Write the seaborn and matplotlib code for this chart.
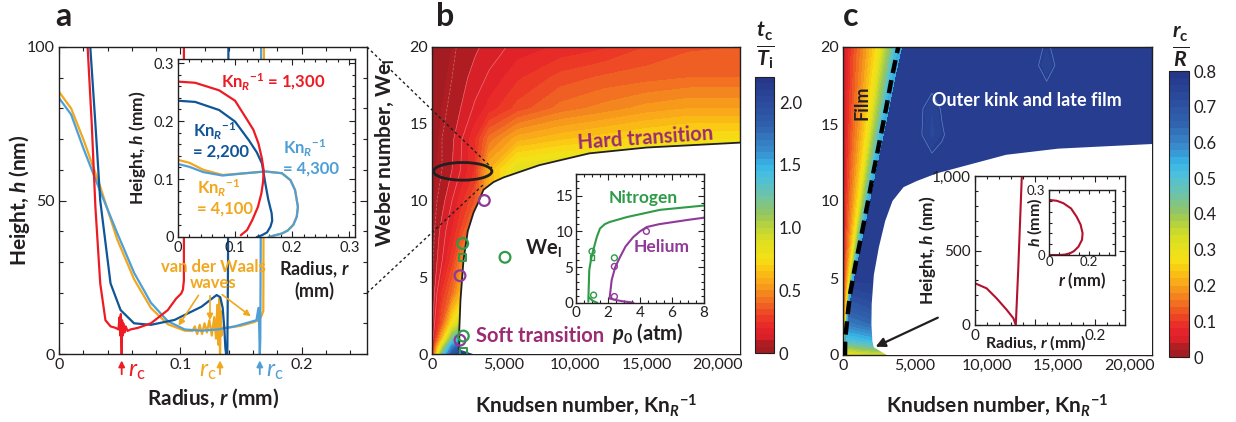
import numpy as np
import matplotlib
matplotlib.use("Agg")
import matplotlib.pyplot as plt
import seaborn as sns
from matplotlib.colors import LinearSegmentedColormap
from matplotlib.patches import Ellipse, FancyArrowPatch
from matplotlib.lines import Line2D
from matplotlib.ticker import MultipleLocator, FuncFormatter, FixedLocator

# ---------------- DATA ----------------
# Panel a: main plot, radius r (mm) vs height h (nm)
red_r = [0.0236, 0.027, 0.030, 0.034, 0.0383, 0.0425, 0.0467, 0.049, 0.0500, 0.0505, 0.0510, 0.0514, 0.0517,
         0.0520, 0.0525, 0.053, 0.054, 0.055, 0.0565, 0.059, 0.065, 0.0758, 0.0897, 0.0965, 0.1008, 0.1022, 0.1030, 0.1030]
red_h = [100, 75, 48, 23, 11, 9, 8.5, 8, 12, 6, 13, 5, 0,
         11, 6, 10, 7, 9, 7.5, 8, 8.5, 10, 14.3, 18, 19.7, 21, 24, 100]
dblue_r = [0.0258, 0.030, 0.034, 0.0425, 0.0508, 0.0619, 0.0758, 0.0953, 0.1175, 0.126, 0.130, 0.1330, 0.1350,
           0.1364, 0.1372, 0.1378, 0.1388, 0.1394, 0.1397]
dblue_h = [100, 75, 50, 23, 14.3, 10, 9.5, 11.1, 15.4, 18, 19.2, 18.5, 15, 8, 2, 0, 0, 30, 100]
yel_r = [0.0, 0.010, 0.0203, 0.034, 0.048, 0.062, 0.0758, 0.0897, 0.1036, 0.110, 0.112, 0.114, 0.116, 0.118,
         0.120, 0.122, 0.124, 0.126, 0.128, 0.1295, 0.1305, 0.1315, 0.1322, 0.1328, 0.1334, 0.134, 0.1346,
         0.140, 0.150, 0.160, 0.1647, 0.1665, 0.1685, 0.169]
yel_h = [85.4, 80, 69.7, 54.5, 37.3, 24.3, 15, 9.7, 7.6, 7.5, 9, 6.5, 9.5, 6.5,
         10, 7, 11, 6, 12, 5, 16, 3, 18, 0, 14, 6, 8.5,
         8.6, 9.2, 10.3, 11, 12, 14, 100]
lblue_r = [0.0, 0.010, 0.0203, 0.034, 0.048, 0.062, 0.0758, 0.0897, 0.1036, 0.1175, 0.131, 0.145, 0.1628,
           0.1645, 0.1650, 0.1656, 0.1660, 0.1664, 0.1667]
lblue_h = [83.4, 78, 66.8, 53, 39.4, 26.4, 16.7, 10.7, 8, 7.6, 8, 9, 11, 15, 10, 0, 5, 40, 100]

# Panel a inset: r (mm) vs h (mm)
in_red_r = [0, 0.03, 0.072, 0.10, 0.118, 0.132, 0.141, 0.147, 0.150, 0.149, 0.146, 0.140, 0.130, 0.121, 0.110]
in_red_h = [0.268, 0.266, 0.253, 0.235, 0.207, 0.185, 0.161, 0.135, 0.115, 0.095, 0.075, 0.052, 0.029, 0.012, 0.003]
in_dblue_r = [0, 0.03, 0.072, 0.10, 0.124, 0.138, 0.147, 0.150, 0.153, 0.158, 0.164, 0.165, 0.162, 0.156, 0.147, 0.138]
in_dblue_h = [0.235, 0.233, 0.219, 0.199, 0.167, 0.146, 0.127, 0.11, 0.092, 0.065, 0.041, 0.028, 0.018, 0.008, 0.003, 0.0]
in_yel_r = [0, 0.02, 0.044, 0.078, 0.118, 0.153, 0.182, 0.197, 0.205, 0.21, 0.208, 0.202, 0.192, 0.182, 0.170, 0.159]
in_yel_h = [0.133, 0.128, 0.116, 0.107, 0.11, 0.113, 0.11, 0.098, 0.081, 0.052, 0.035, 0.021, 0.011, 0.006, 0.003, 0.0]
in_lblue_r = [0, 0.02, 0.044, 0.078, 0.118, 0.153, 0.182, 0.197, 0.205, 0.21, 0.208, 0.202, 0.192, 0.182, 0.170, 0.159]
in_lblue_h = [0.126, 0.121, 0.112, 0.106, 0.11, 0.113, 0.11, 0.098, 0.081, 0.052, 0.035, 0.021, 0.011, 0.006, 0.003, 0.0]

# Panel b: t_c/T_i on a (We, Kn) grid
kn_b = [0, 700, 1400, 2000, 3000, 4000, 6000, 9000, 12000, 15000, 18000, 21540]
we_b = [0, 0.5, 1, 2, 4, 6, 8, 10, 12, 14, 16, 18, 20]
tc_b = [
    [0.20, 1.20, 1.90, 2.10, 2.15, 2.15, 2.15, 2.15, 2.15, 2.15, 2.15, 2.15],
    [0.15, 0.90, 1.60, 1.90, 2.10, 2.10, 2.10, 2.10, 2.10, 2.10, 2.10, 2.10],
    [0.10, 0.60, 1.20, 1.50, 1.80, 1.90, 1.90, 1.90, 1.90, 1.90, 1.90, 1.90],
    [0.08, 0.35, 0.75, 0.95, 1.20, 1.30, 1.30, 1.30, 1.30, 1.30, 1.30, 1.30],
    [0.05, 0.25, 0.40, 0.60, 0.85, 1.00, 1.00, 1.00, 1.00, 1.00, 1.00, 1.00],
    [0.05, 0.15, 0.28, 0.45, 0.70, 0.90, 0.95, 0.95, 0.95, 0.95, 0.95, 0.95],
    [0.04, 0.12, 0.20, 0.30, 0.50, 0.80, 0.95, 0.95, 0.95, 0.95, 0.95, 0.95],
    [0.04, 0.08, 0.15, 0.22, 0.35, 0.60, 0.90, 0.95, 0.95, 0.95, 0.95, 0.95],
    [0.04, 0.06, 0.10, 0.15, 0.25, 0.60, 0.85, 0.90, 0.90, 0.90, 0.90, 0.90],
    [0.03, 0.06, 0.09, 0.14, 0.24, 0.42, 0.58, 0.64, 0.68, 0.72, 0.75, 0.75],
    [0.03, 0.05, 0.07, 0.10, 0.16, 0.22, 0.32, 0.42, 0.47, 0.52, 0.55, 0.55],
    [0.03, 0.04, 0.06, 0.08, 0.12, 0.16, 0.24, 0.32, 0.36, 0.38, 0.40, 0.40],
    [0.03, 0.04, 0.05, 0.07, 0.09, 0.12, 0.17, 0.21, 0.24, 0.30, 0.34, 0.35],
]
# hard/soft transition boundary (panel b)
bnd_kn_b = [2870, 1910, 1910, 1990, 2200, 2500, 2900, 3250, 3600, 4300, 5000, 7500, 11000, 15000, 21540]
bnd_we_b = [0, 0.3, 1.6, 3.5, 6.1, 8.0, 9.2, 9.9, 10.7, 11.2, 11.5, 12.3, 13.07, 13.45, 13.77]
# experimental points (panel b)
he_kn = [3660, 1958, 1958]
he_we = [10.0, 5.1, 0.9]
n2_kn = [2147, 5105, 2190]
n2_we = [7.2, 6.3, 1.17]
n2sq_kn = [2147, 2190]
n2sq_we = [6.3, 0.15]
# panel b inset: We_l vs p0 (atm)
n2_p = [0.77, 0.80, 0.83, 0.95, 1.08, 1.3, 1.5, 1.8, 2.1, 3.2, 5.25, 8.0]
n2_wel = [0.18, 2.5, 4.6, 6.2, 7.4, 9.2, 10.4, 11.0, 11.3, 12.0, 13.0, 13.6]
n2_low_p = [0.8, 1.05, 1.35]
n2_low_wel = [0.8, 0.3, 0.0]
he_p = [2.1, 2.23, 2.45, 2.75, 3.1, 3.58, 4.0, 4.42, 5.2, 6.1, 7.0, 8.0]
he_wel = [0.65, 3.2, 5.0, 6.4, 7.9, 9.2, 10.0, 10.6, 11.0, 11.3, 11.6, 11.9]
he_low_p = [2.1, 2.4, 2.9, 3.58]
he_low_wel = [0.65, 0.45, 0.25, 0.05]
in_n2_p = [1.0, 1.1, 2.4]
in_n2_wel = [7.2, 1.1, 6.3]
in_he_p = [2.4, 4.4, 2.4]
in_he_wel = [5.1, 10.0, 0.9]

# Panel c: r_c/R
kn_c = [0, 1000, 2000, 3000, 21540]
we_c = [0, 0.5, 1, 2, 3, 4, 5, 20]
rc_c = [
    [0.28, 0.30, 0.32, 0.32, 0.32],
    [0.38, 0.42, 0.44, 0.46, 0.46],
    [0.50, 0.52, 0.54, 0.58, 0.58],
    [0.60, 0.62, 0.64, 0.70, 0.70],
    [0.66, 0.68, 0.70, 0.76, 0.76],
    [0.72, 0.73, 0.74, 0.78, 0.78],
    [0.77, 0.77, 0.77, 0.78, 0.78],
    [0.78, 0.78, 0.78, 0.78, 0.78],
]
# lighter blobs inside the dark-blue region of panel c
blob1_kn = [5200, 6200, 6900, 7600]
blob1_we = [12.6, 14.3, 16.0, 17.6]
blob1_rc = [[0.78, 0.78, 0.78, 0.78],
            [0.78, 0.73, 0.76, 0.78],
            [0.78, 0.74, 0.77, 0.78],
            [0.78, 0.78, 0.78, 0.78]]
blob2_kn = [13200, 14200, 15200]
blob2_we = [17.0, 18.8, 20.0]
blob2_rc = [[0.78, 0.78, 0.78],
            [0.78, 0.745, 0.78],
            [0.78, 0.76, 0.78]]
film_we = [0, 1, 2, 3, 4, 6, 8, 10, 12, 14, 16, 18, 20]
film_kn = [140, 150, 260, 370, 500, 900, 1330, 1750, 2150, 2580, 3000, 3400, 3850]
strip_frac = [0, 0.15, 0.26, 0.41, 0.56, 0.68, 0.76, 0.88, 0.97, 1.06]
strip_rc = [0.03, 0.10, 0.14, 0.19, 0.245, 0.30, 0.36, 0.43, 0.52, 0.56]
bnd_kn_c = [3050, 2150, 2050, 1980, 2000, 2150, 2500, 2940, 3450, 4220, 5150, 6550, 11370, 15000, 21540]
bnd_we_c = [0, 0.5, 0.9, 2.0, 3.3, 5.2, 7.0, 8.7, 10.0, 10.9, 11.3, 11.8, 13.0, 13.4, 13.7]
# panel c inset
ci_r = [0, 0.0194, 0.036, 0.053, 0.064, 0.068, 0.072, 0.0785]
ci_h = [280, 246, 179, 101, 45, 0, 369, 1050]
cii_r = [0, 0.005, 0.04, 0.072, 0.11, 0.138, 0.158, 0.168, 0.165, 0.147, 0.125, 0.105, 0.08, 0.055, 0.0]
cii_h = [0.254, 0.254, 0.25, 0.239, 0.215, 0.177, 0.14, 0.1, 0.07, 0.038, 0.018, 0.008, 0.002, 0.0, 0.0]

# colormap anchors (t_c/T_i scale, 0-2.2)
cmap_pos = [0.0, 0.085, 0.11, 0.20, 0.28, 0.36, 0.45, 0.55, 0.65, 0.75, 0.90, 1.00, 1.10, 1.25, 1.40,
            1.50, 1.60, 1.80, 2.00, 2.20]
cmap_cols = ["#9e1b20", "#b31e23", "#d52027", "#e6242a", "#ec3a26", "#ef5a23", "#f37d20", "#f8a31b",
             "#fbc313", "#f6e116", "#dbdf22", "#bdd437", "#97c75c", "#6fc3a6", "#4cc0dc", "#37b6e8",
             "#3a90cf", "#3063ad", "#2b4a9c", "#253586"]

# ---------------- STYLE ----------------
sns.set_theme(style="ticks")
FONT = "Lato"
plt.rcParams["font.family"] = [FONT, "DejaVu Sans"]
plt.rcParams["mathtext.fontset"] = "custom"
plt.rcParams["mathtext.rm"] = FONT
plt.rcParams["mathtext.it"] = FONT + ":italic"
plt.rcParams["mathtext.bf"] = FONT + ":bold"
plt.rcParams["mathtext.bfit"] = FONT + ":bold:italic"

INK = "#231f20"
C_RED, C_DBLUE, C_YEL, C_LBLUE = "#ed1c24", "#0f5597", "#f1a71e", "#4f9fd6"
C_GREEN, C_PURPLE, C_MAG = "#2e9b48", "#8f3a98", "#9b2b73"
C_CRIM = "#b3122e"
LAB = 15

cmap = LinearSegmentedColormap.from_list(
    "tc", [(p / 2.2, c) for p, c in zip(cmap_pos, cmap_cols)])

W, H = 1236, 422
fig = plt.figure(figsize=(W / 100, H / 100), dpi=100)


def add_ax(l, t, r, b):
    return fig.add_axes([l / W, 1 - b / H, (r - l) / W, (b - t) / H])


def style(ax, size=11, maj=5, mnr=2.5):
    ax.tick_params(which="both", direction="in", top=True, right=True, colors=INK,
                   width=0.8, labelsize=size, pad=3)
    ax.tick_params(which="major", length=maj)
    ax.tick_params(which="minor", length=mnr)
    for s in ax.spines.values():
        s.set_visible(True)
        s.set_linewidth(1.0)
        s.set_color(INK)
    ax.set_xlabel("")
    ax.set_ylabel("")


def ftext(x, y, s, **kw):
    kw.setdefault("ha", "center")
    kw.setdefault("va", "center")
    kw.setdefault("color", INK)
    return fig.text(x / W, 1 - y / H, s, **kw)


def fmt_num(v, pos=None):
    if abs(v) < 1e-12:
        return "0"
    return f"{v:g}"


def fmt_comma(v, pos=None):
    return f"{int(round(v)):,}"


KN = r"Kn$_{\mathbfit{R}}$$^{\mathbf{-1}}$"

# ---------------- PANEL A ----------------
axa = add_ax(59, 47, 367, 354)
for xs, ys, c in [(yel_r, yel_h, C_YEL), (lblue_r, lblue_h, C_LBLUE),
                  (dblue_r, dblue_h, C_DBLUE), (red_r, red_h, C_RED)]:
    sns.lineplot(x=xs, y=ys, sort=False, estimator=None, color=c, lw=1.6, ax=axa)
axa.set_xlim(0, 0.254)
axa.set_ylim(0, 100)
axa.xaxis.set_major_locator(MultipleLocator(0.1))
axa.xaxis.set_minor_locator(MultipleLocator(0.02))
axa.yaxis.set_major_locator(MultipleLocator(50))
axa.yaxis.set_minor_locator(MultipleLocator(10))
axa.xaxis.set_major_formatter(FuncFormatter(fmt_num))
style(axa, size=11.5, maj=5, mnr=3)
axa.set_ylabel(r"Height, $\mathbfit{h}$ (nm)", fontsize=LAB, fontweight="bold", color=INK, va="center")
axa.yaxis.set_label_coords((20 - 59) / 308, 0.5)
axa.set_xlabel(r"Radius, $\mathbfit{r}$ (mm)", fontsize=LAB, fontweight="bold", color=INK, va="center")
axa.xaxis.set_label_coords(0.5, (354 - 398) / 307)

# r_c markers
for rx, c, tx in [(0.0517, C_RED, 128), (0.1328, C_YEL, 199), (0.1656, C_LBLUE, 266)]:
    axa.annotate("", xy=(rx, -0.012), xytext=(rx, -0.075), xycoords=("data", "axes fraction"),
                 textcoords=("data", "axes fraction"), annotation_clip=False,
                 arrowprops=dict(arrowstyle="-|>", color=c, lw=1.3, mutation_scale=9))
    ftext(tx, 372, r"$\mathit{r}_\mathrm{c}$", fontsize=17, color=c, ha="left")

ftext(213, 275, "van der Waals\nwaves", fontsize=12, color=C_YEL, fontweight="bold", linespacing=1.0)
for (x0, y0), (x1, y1) in [((200, 293), (177, 328)), ((210, 293), (210, 323)), ((220, 293), (253, 318))]:
    fig.add_artist(FancyArrowPatch(
        (x0 / W, 1 - y0 / H), (x1 / W, 1 - y1 / H), transform=fig.transFigure,
        arrowstyle="-|>", mutation_scale=9, color=C_YEL, lw=1.2))

# inset a
axai = add_ax(178, 59, 355, 237)
axai.set_facecolor("white")
for xs, ys, c in [(in_yel_r, in_yel_h, C_YEL), (in_lblue_r, in_lblue_h, C_LBLUE),
                  (in_dblue_r, in_dblue_h, C_DBLUE), (in_red_r, in_red_h, C_RED)]:
    sns.lineplot(x=xs, y=ys, sort=False, estimator=None, color=c, lw=1.6, ax=axai)
axai.set_xlim(0, 0.31)
axai.set_ylim(0, 0.307)
axai.xaxis.set_major_locator(MultipleLocator(0.1))
axai.xaxis.set_minor_locator(MultipleLocator(0.02))
axai.yaxis.set_major_locator(MultipleLocator(0.1))
axai.yaxis.set_minor_locator(MultipleLocator(0.02))
axai.xaxis.set_major_formatter(FuncFormatter(fmt_num))
axai.yaxis.set_major_formatter(FuncFormatter(fmt_num))
style(axai, size=10.5, maj=4, mnr=2.5)
ftext(138, 148, r"Height, $\mathbfit{h}$ (mm)", rotation=90, fontsize=12.5, fontweight="bold")
ftext(314, 280, "Radius, $\\mathbfit{r}$\n(mm)", fontsize=13, fontweight="bold", linespacing=1.1)
ftext(273, 82, KN + " = 1,300", fontsize=12, fontweight="bold", color=C_RED)
ftext(193, 140, KN + "\n= 2,200", fontsize=12, fontweight="bold", color=C_DBLUE, ha="left", linespacing=1.05)
ftext(283, 157, KN + "\n= 4,300", fontsize=12, fontweight="bold", color=C_LBLUE, ha="left", linespacing=1.05)
ftext(197, 197, KN + "\n= 4,100", fontsize=12, fontweight="bold", color=C_YEL, ha="left", linespacing=1.05)

# ---------------- PANEL B ----------------
axb = add_ax(432, 47, 740, 354)
levels_b = np.arange(0, 2.2001, 0.05)
cf_b = axb.contourf(kn_b, we_b, tc_b, levels=levels_b, cmap=cmap, vmin=0, vmax=2.2)
axb.contour(kn_b, we_b, tc_b, levels=[0.06, 0.1, 0.15], colors="white",
            linewidths=0.5, alpha=0.35, linestyles=[(0, (4, 2)), "solid", "solid"])
poly_kn = list(bnd_kn_b) + [23000, 23000]
poly_we = list(bnd_we_b) + [13.77, -1]
axb.fill(poly_kn + [bnd_kn_b[0]], poly_we + [-1], color="white", zorder=3, lw=0)
sns.lineplot(x=bnd_kn_b[1:], y=bnd_we_b[1:], sort=False, estimator=None, color=INK, lw=1.3, ax=axb, zorder=4)
axb.add_patch(Ellipse((2147, 11.9), width=4080, height=1.15, fill=False, lw=2.0, ec=INK, zorder=5))
sns.scatterplot(x=he_kn, y=he_we, marker="o", s=60, facecolor="none", edgecolor=C_PURPLE, linewidth=1.6,
                ax=axb, zorder=6)
sns.scatterplot(x=n2_kn, y=n2_we, marker="o", s=60, facecolor="none", edgecolor=C_GREEN, linewidth=1.6,
                ax=axb, zorder=6)
sns.scatterplot(x=n2sq_kn, y=n2sq_we, marker="s", s=25, facecolor="none", edgecolor=C_GREEN, linewidth=1.4,
                ax=axb, zorder=6)
axb.set_xlim(0, 21540)
axb.set_ylim(0, 20)
axb.xaxis.set_major_locator(MultipleLocator(5000))
axb.xaxis.set_minor_locator(MultipleLocator(1000))
axb.yaxis.set_major_locator(MultipleLocator(5))
axb.yaxis.set_minor_locator(MultipleLocator(1))
axb.xaxis.set_major_formatter(FuncFormatter(fmt_comma))
style(axb, size=11.5, maj=5, mnr=3)
axb.set_ylabel(r"Weber number, We$_\mathbf{l}$", fontsize=LAB, fontweight="bold", color=INK, va="center")
axb.yaxis.set_label_coords((385 - 432) / 308, (354 - 153) / 307)
axb.set_xlabel("Knudsen number, " + KN, fontsize=LAB, fontweight="bold", color=INK, va="center")
axb.xaxis.set_label_coords(0.5, (354 - 405) / 307)
axb.text(14895, 14.05, "Hard transition", fontsize=14.5, fontweight="bold", color=C_MAG,
         ha="center", va="center", rotation=4, zorder=7)
axb.text(7552, 1.17, "Soft transition", fontsize=14.5, fontweight="bold", color=C_MAG,
         ha="center", va="center", zorder=7)

# colorbar b
cax_b = add_ax(755, 77, 774, 353)
cb_b = fig.colorbar(cf_b, cax=cax_b, ticks=[0, 0.5, 1.0, 1.5, 2.0])
cb_b.ax.set_yticklabels(["0", "0.5", "1.0", "1.5", "2.0"])
cb_b.ax.tick_params(direction="in", length=5, width=0.8, colors=INK, labelsize=12, right=True)
cb_b.outline.set_linewidth(0.8)
cb_b.outline.set_edgecolor(INK)
ftext(765, 46, r"$\frac{\mathbfit{t}_\mathbf{c}}{\mathbfit{T}_\mathbf{i}}$", fontsize=22)

# inset b
axbi = add_ax(576, 174, 704, 303)
axbi.set_facecolor("white")
axbi.set_zorder(10)
sns.lineplot(x=n2_p, y=n2_wel, sort=False, estimator=None, color=C_GREEN, lw=1.5, ax=axbi)
sns.lineplot(x=n2_low_p, y=n2_low_wel, sort=False, estimator=None, color=C_GREEN, lw=1.5, ax=axbi)
sns.lineplot(x=he_p, y=he_wel, sort=False, estimator=None, color=C_PURPLE, lw=1.5, ax=axbi)
sns.lineplot(x=he_low_p, y=he_low_wel, sort=False, estimator=None, color=C_PURPLE, lw=1.5, ax=axbi)
sns.scatterplot(x=in_n2_p, y=in_n2_wel, marker="o", s=18, facecolor="none", edgecolor=C_GREEN,
                linewidth=1.0, ax=axbi, zorder=5)
sns.scatterplot(x=[1.0], y=[6.3], marker="s", s=12, facecolor="none", edgecolor=C_GREEN,
                linewidth=1.0, ax=axbi, zorder=5)
sns.scatterplot(x=in_he_p, y=in_he_wel, marker="o", s=18, facecolor="none", edgecolor=C_PURPLE,
                linewidth=1.0, ax=axbi, zorder=5)
axbi.set_xlim(0, 8)
axbi.set_ylim(0, 18)
axbi.xaxis.set_major_locator(MultipleLocator(2))
axbi.xaxis.set_minor_locator(MultipleLocator(0.5))
axbi.yaxis.set_major_locator(MultipleLocator(5))
axbi.yaxis.set_minor_locator(MultipleLocator(1))
style(axbi, size=11, maj=4, mnr=2.5)
axbi.tick_params(pad=2)
ftext(543, 248, r"We$_\mathbf{l}$", fontsize=14.5, fontweight="bold")
ftext(648, 334, r"$\mathbfit{p}_\mathbf{0}$ (atm)", fontsize=14.5, fontweight="bold")
ftext(643, 198, "Nitrogen", fontsize=12.5, fontweight="bold", color=C_GREEN, zorder=20)
ftext(662, 247, "Helium", fontsize=12.5, fontweight="bold", color=C_PURPLE, zorder=20)

# dotted connector lines (figure pixels)
for (x0, y0), (x1, y1) in [((367, 47), (492, 168)), ((367, 293), (483, 185))]:
    fig.add_artist(Line2D([x0 / W, x1 / W], [1 - y0 / H, 1 - y1 / H], transform=fig.transFigure,
                          color=INK, lw=1.0, ls=(0, (2, 2)), zorder=8))

# ---------------- PANEL C ----------------
axc = add_ax(843, 47, 1152, 355)
levels_c = np.arange(0, 0.8001, 0.02)
cf_c = axc.contourf(kn_c, we_c, rc_c, levels=levels_c, cmap=cmap, vmin=0, vmax=0.8)
for bk, bw, bz in [(blob1_kn, blob1_we, blob1_rc), (blob2_kn, blob2_we, blob2_rc)]:
    axc.contourf(bk, bw, bz, levels=levels_c[levels_c < 0.7801], cmap=cmap, vmin=0, vmax=0.8)
    axc.contour(bk, bw, bz, levels=[0.765], colors="#5d86c4", linewidths=0.5)
strip_x = np.array(film_kn)[:, None] * np.array(strip_frac)[None, :]
strip_y = np.repeat(np.array(film_we)[:, None], len(strip_frac), axis=1)
strip_z = np.repeat(np.array(strip_rc)[None, :], len(film_we), axis=0)
axc.contourf(strip_x, strip_y, strip_z, levels=levels_c, cmap=cmap, vmin=0, vmax=0.8)
pc_kn = list(bnd_kn_c) + [23000, 23000, bnd_kn_c[0]]
pc_we = list(bnd_we_c) + [13.7, -1, -1]
axc.fill(pc_kn, pc_we, color="white", zorder=3, lw=0)
sns.lineplot(x=film_kn, y=film_we, sort=False, estimator=None, color="black", lw=3.2, ax=axc, zorder=5)
axc.lines[-1].set_dashes((3, 1.6))
axc.set_xlim(0, 21540)
axc.set_ylim(0, 20)
axc.xaxis.set_major_locator(MultipleLocator(5000))
axc.xaxis.set_minor_locator(MultipleLocator(1000))
axc.yaxis.set_major_locator(MultipleLocator(5))
axc.yaxis.set_minor_locator(MultipleLocator(1))
axc.xaxis.set_major_formatter(FuncFormatter(fmt_comma))
style(axc, size=11.5, maj=5, mnr=3)
axc.set_xlabel("Knudsen number, " + KN, fontsize=LAB, fontweight="bold", color=INK, va="center")
axc.xaxis.set_label_coords(0.5, (355 - 405) / 308)
axc.text(1308, 16.35, "Film", rotation=90, fontsize=13, fontweight="bold", color=INK,
         ha="center", va="center", zorder=6)
axc.text(12850, 16.5, "Outer kink and late film", fontsize=13, fontweight="bold", color="white",
         ha="center", va="center", zorder=6)
axc.annotate("", xy=(2098, 0.46), xytext=(6783, 2.5), zorder=7,
             arrowprops=dict(arrowstyle="-|>", color=INK, lw=1.6, mutation_scale=14))

# colorbar c
cax_c = add_ax(1169, 71, 1189, 357)
cb_c = fig.colorbar(cf_c, cax=cax_c, ticks=np.arange(0, 0.81, 0.1))
cb_c.ax.set_yticklabels(["0", "0.1", "0.2", "0.3", "0.4", "0.5", "0.6", "0.7", "0.8"])
cb_c.ax.tick_params(direction="in", length=5, width=0.8, colors=INK, labelsize=12, right=True)
cb_c.outline.set_linewidth(0.8)
cb_c.outline.set_edgecolor(INK)
ftext(1181, 47, r"$\frac{\mathbfit{r}_\mathbf{c}}{\mathbfit{R}}$", fontsize=22)

# inset c
axci = add_ax(975, 176, 1125, 325)
axci.set_facecolor("white")
axci.set_zorder(10)
sns.lineplot(x=ci_r, y=ci_h, sort=False, estimator=None, color=C_CRIM, lw=1.5, ax=axci)
axci.set_xlim(0, 0.25)
axci.set_ylim(0, 1000)
axci.xaxis.set_major_locator(FixedLocator([0, 0.1, 0.2]))
axci.xaxis.set_minor_locator(MultipleLocator(0.02))
axci.yaxis.set_major_locator(MultipleLocator(500))
axci.yaxis.set_minor_locator(MultipleLocator(100))
axci.xaxis.set_major_formatter(FuncFormatter(lambda v, p: "" if abs(v - 0.1) < 1e-9 else fmt_num(v)))
axci.yaxis.set_major_formatter(FuncFormatter(fmt_comma))
style(axci, size=11, maj=4, mnr=2.5)
ftext(1036, 343, r"Radius, $\mathbfit{r}$ (mm)", fontsize=11.5, fontweight="bold", zorder=20)
ftext(928, 250, r"Height, $\mathbfit{h}$ (nm)", fontsize=12.5, fontweight="bold", rotation=90, zorder=20)

axcii = add_ax(1049, 190, 1115, 255)
axcii.set_facecolor("white")
axcii.set_zorder(11)
sns.lineplot(x=cii_r, y=cii_h, sort=False, estimator=None, color=C_CRIM, lw=1.5, ax=axcii)
axcii.set_xlim(0, 0.33)
axcii.set_ylim(0, 0.3)
axcii.xaxis.set_major_locator(FixedLocator([0, 0.2]))
axcii.xaxis.set_minor_locator(MultipleLocator(0.05))
axcii.yaxis.set_major_locator(FixedLocator([0, 0.3]))
axcii.yaxis.set_minor_locator(MultipleLocator(0.05))
axcii.xaxis.set_major_formatter(FuncFormatter(fmt_num))
axcii.yaxis.set_major_formatter(FuncFormatter(fmt_num))
style(axcii, size=9.5, maj=3, mnr=2)
axcii.tick_params(axis="x", pad=1)
axcii.tick_params(axis="y", pad=3)
ftext(1035, 222, r"$\mathbfit{h}$ (mm)", fontsize=11.5, fontweight="bold", rotation=90, zorder=20)
ftext(1082, 281, r"$\mathbfit{r}$ (mm)", fontsize=12, fontweight="bold", zorder=20)

# panel letters
ftext(63, 16, "a", fontsize=23, fontweight="bold")
ftext(445, 17, "b", fontsize=23, fontweight="bold")
ftext(851, 17, "c", fontsize=23, fontweight="bold")

fig.savefig("out.png", dpi=100, facecolor="white")
